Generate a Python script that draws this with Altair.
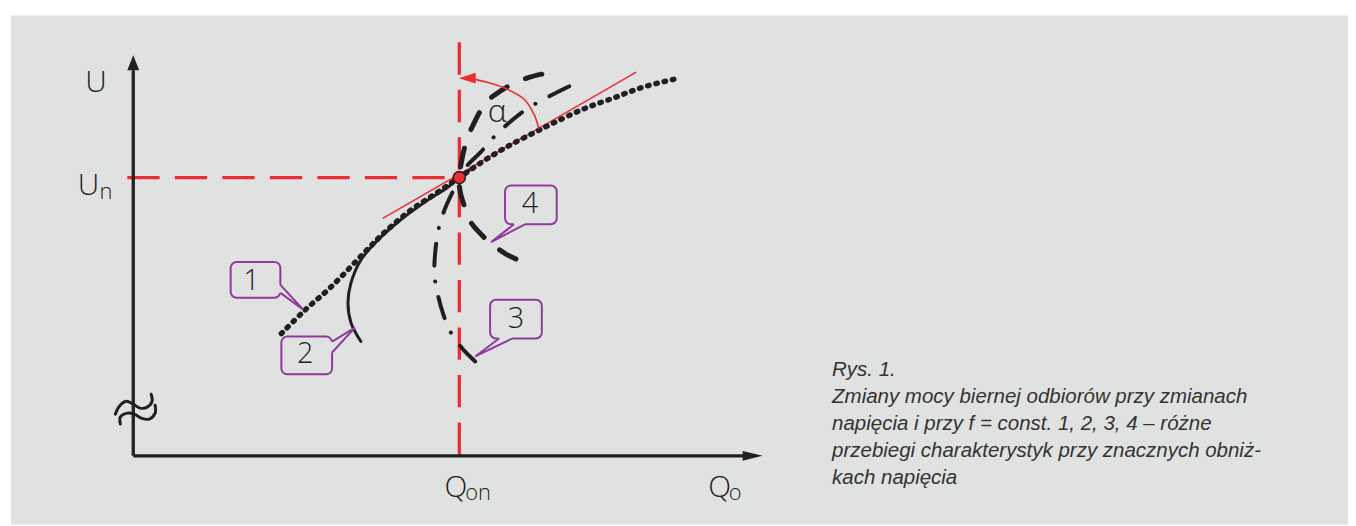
import altair as alt
import pandas as pd

# ---------------- data (diagram units: Q to the right, U upwards, origin at axis corner) -------------
Q_ON = 328
U_N = 280

# curve 1 (dotted)
C1_Q = [149, 171, 199, 233, 253, 279, 306, 328, 353, 376, 403, 423, 453, 483, 513, 549]
C1_U = [123, 145, 170, 205, 225, 247, 265, 280, 297, 311, 325, 335, 349, 360, 371, 380]
# curve 2 (solid)
C2_Q = [229, 219, 216, 219, 229, 243, 266, 293, 316, 328, 338]
C2_U = [115, 134, 154, 174, 197, 214, 235, 255, 270, 280, 287]
# curve 3 (dash-dot)
C3_Q = [344, 331, 319, 312, 306, 303, 304, 308, 315, 323, 328, 336, 349, 363, 378, 393, 406, 419, 443]
C3_U = [95, 108, 125, 142, 164, 182, 207, 232, 252, 269, 280, 292, 305, 321, 335, 347, 355, 362, 374]
# curve 4 (dashed)
C4_Q = [385, 375, 366, 356, 346, 339, 334, 330, 328, 328, 330, 333, 336, 342, 348, 356, 365, 374, 388, 399, 411]
C4_U = [198, 203, 209, 217, 227, 236, 249, 261, 272, 280, 295, 309, 320, 333, 345, 357, 364, 370, 377, 381, 384]

# tangent at the operating point
TAN_Q = [251, 506]
TAN_U = [239, 386]
# angle alpha arc
ARC_Q = [408, 403, 393, 376, 359, 343]
ARC_U = [329, 344, 359, 369, 375, 379]
ARC_HEAD_Q = 336
ARC_HEAD_U = 380

# axes
Y_AXIS_TOP = 388
X_AXIS_END = 616
RED_V_TOP = 416
RED_H_START = -6

# axis break symbol (two wavy strokes)
BREAK_A_Q = [-18, -14, -7, 0, 7, 14, 19, 18]
BREAK_A_U = [42, 50, 55, 52, 48, 49, 55, 62]
BREAK_B_Q = [-13, -13, -6, 1, 8, 16, 22, 22]
BREAK_B_U = [32, 39, 43, 42, 38, 37, 43, 51]

# callouts: label, box (q1,q2,u1,u2), tail (base a, tip, base b)
CALL_LABEL = ["1", "2", "3", "4"]
BOX_Q1 = [98, 149, 359, 374]
BOX_Q2 = [148, 200, 411, 426]
BOX_U1 = [195, 120, 157, 272]
BOX_U2 = [159, 82, 118, 233]
LABEL_Q = [119, 173, 385, 399]
LABEL_U = [176, 102, 138, 253]
TAIL_Q = [[148, 171, 148], [200, 223, 200], [368, 344, 381], [383, 360, 394]]
TAIL_U = [[172, 147, 164], [115, 129, 104], [118, 100, 118], [233, 215, 233]]

CAPTION = [
    "Rys. 1.",
    "Zmiany mocy biernej odbiorów przy zmianach",
    "napięcia i przy f = const. 1, 2, 3, 4 – różne",
    "przebiegi charakterystyk przy znacznych obniż-",
    "kach napięcia",
]
CAPTION_U = [80, 53, 26, -1, -28]
CAPTION_Q = 703

# ---------------- styling -------------
BG = "#e0e2e1"
DARK = "#231f20"
RED = "#ec2d33"
PURPLE = "#8e3b9c"
LABEL_FONT = "Open Sans"

XS = alt.Scale(domain=[-123, 1222], nice=False, zero=False)
YS = alt.Scale(domain=[-69, 443], nice=False, zero=False)


def xy():
    return dict(x=alt.X("q:Q", scale=XS, axis=None), y=alt.Y("u:Q", scale=YS, axis=None))


def curve(qs, us, **kw):
    df = pd.DataFrame({"q": qs, "u": us, "i": list(range(len(qs)))})
    return alt.Chart(df).mark_line(**kw).encode(order=alt.Order("i:Q"), **xy())


def point(q, u, **kw):
    return alt.Chart(pd.DataFrame({"q": [q], "u": [u]})).mark_point(**kw).encode(**xy())


def text(txt, q, u, **kw):
    return alt.Chart(pd.DataFrame({"q": [q], "u": [u], "t": [txt]})).mark_text(**kw).encode(
        text="t:N", **xy()
    )


layers = []

# red dashed guides
layers.append(curve([Q_ON, Q_ON], [RED_V_TOP, 0], color=RED, strokeWidth=3.3,
                    strokeDash=[32.5, 15.3], strokeCap="butt"))
layers.append(curve([RED_H_START, Q_ON], [U_N, U_N], color=RED, strokeWidth=3.3,
                    strokeDash=[32.5, 15.3], strokeCap="butt"))

# axes
layers.append(curve([0, 0], [0, Y_AXIS_TOP], color=DARK, strokeWidth=3.3))
layers.append(curve([0, X_AXIS_END], [0, 0], color=DARK, strokeWidth=3.3))
layers.append(point(0, Y_AXIS_TOP + 7.5, shape="M0,-1L0.8,1L-0.8,1Z", size=225,
                    filled=True, color=DARK, opacity=1))
layers.append(point(X_AXIS_END + 7, 0, shape="M1,0L-1,-0.5L-1,0.5Z", size=400,
                    filled=True, color=DARK, opacity=1))
layers.append(curve(BREAK_A_Q, BREAK_A_U, color=DARK, strokeWidth=3, interpolate="catmull-rom",
                    strokeCap="round"))
layers.append(curve(BREAK_B_Q, BREAK_B_U, color=DARK, strokeWidth=3, interpolate="catmull-rom",
                    strokeCap="round"))

# tangent line
layers.append(curve(TAN_Q, TAN_U, color=RED, strokeWidth=1.5))

# characteristics
layers.append(curve(C2_Q, C2_U, color=DARK, strokeWidth=3, interpolate="catmull-rom",
                    strokeCap="round"))
layers.append(curve(C1_Q, C1_U, color=DARK, strokeWidth=5.5, interpolate="catmull-rom",
                    strokeDash=[1.5, 7], strokeCap="round"))
layers.append(curve(C3_Q, C3_U, color=DARK, strokeWidth=4, interpolate="catmull-rom",
                    strokeDash=[22, 16, 0.1, 16], strokeCap="round"))
layers.append(curve(C4_Q, C4_U, color=DARK, strokeWidth=5, interpolate="catmull-rom",
                    strokeDash=[19, 20], strokeCap="round"))

# alpha arc with arrow
layers.append(curve(ARC_Q, ARC_U, color=RED, strokeWidth=1.6, interpolate="catmull-rom"))
layers.append(point(ARC_HEAD_Q, ARC_HEAD_U, shape="M-1,0L1,-0.65L1,0.65Z", size=289,
                    filled=True, color=RED, opacity=1))
layers.append(text("α", 366, 346, font=LABEL_FONT, fontWeight=300, fontSize=32,
                   align="center", baseline="middle", color=DARK))

# callouts
box_df = pd.DataFrame({"q1": BOX_Q1, "q2": BOX_Q2, "u1": BOX_U1, "u2": BOX_U2})
layers.append(alt.Chart(box_df).mark_rect(cornerRadius=6, fill=BG, stroke=PURPLE,
                                          strokeWidth=2).encode(
    x=alt.X("q1:Q", scale=XS, axis=None), x2="q2:Q",
    y=alt.Y("u1:Q", scale=YS, axis=None), y2="u2:Q"))
tail_rows = []
cover_rows = []
for k in range(len(CALL_LABEL)):
    for j in range(3):
        tail_rows.append({"g": k, "i": j, "q": TAIL_Q[k][j], "u": TAIL_U[k][j]})
    cover_rows.append({"g": k, "i": 0, "q": TAIL_Q[k][0], "u": TAIL_U[k][0]})
    cover_rows.append({"g": k, "i": 1, "q": TAIL_Q[k][2], "u": TAIL_U[k][2]})
layers.append(alt.Chart(pd.DataFrame(cover_rows)).mark_line(color=BG, strokeWidth=3.5,
                                                            strokeCap="butt").encode(
    detail="g:N", order=alt.Order("i:Q"), **xy()))
layers.append(alt.Chart(pd.DataFrame(tail_rows)).mark_line(color=PURPLE, strokeWidth=2,
                                                           strokeJoin="miter").encode(
    detail="g:N", order=alt.Order("i:Q"), **xy()))
lab_df = pd.DataFrame({"q": LABEL_Q, "u": LABEL_U, "t": CALL_LABEL})
layers.append(alt.Chart(lab_df).mark_text(font=LABEL_FONT, fontWeight=300, fontSize=29,
                                          align="center", baseline="middle",
                                          color=DARK).encode(text="t:N", **xy()))

# operating point
layers.append(point(Q_ON, U_N, shape="circle", size=150, filled=True, fill=RED,
                    stroke=DARK, strokeWidth=1.5, opacity=1))

# axis labels
big = dict(font=LABEL_FONT, fontWeight=300, fontSize=30, color=DARK, baseline="alphabetic")
small = dict(font=LABEL_FONT, fontWeight=300, fontSize=22, color=DARK, baseline="alphabetic")
layers.append(text("U", -37.5, 366, align="center", **big))
layers.append(text("U", -45, 262, align="center", **big))
layers.append(text("n", -27.5, 258, align="center", **small))
layers.append(text("Q", 324.5, -41, align="center", **big))
layers.append(text("on", 334, -44, align="left", **small))
layers.append(text("Q", 590, -41, align="center", **big))
layers.append(text("o", 599, -44, align="left", **small))

# caption
cap_df = pd.DataFrame({"t": CAPTION, "u": CAPTION_U, "q": [CAPTION_Q] * len(CAPTION)})
layers.append(alt.Chart(cap_df).mark_text(font="Liberation Sans", fontStyle="italic",
                                          fontSize=20.6, align="left",
                                          baseline="alphabetic", color="#333333").encode(
    text="t:N", **xy()))

chart = alt.layer(*layers).properties(
    width=1345, height=512,
    padding={"left": 3, "top": 6, "right": 0, "bottom": 0},
    autosize=alt.AutoSizeParams(type="none"),
    background="white",
).configure_view(fill=BG, strokeWidth=0)

chart.save("out.html", embed_options={"renderer": "svg", "actions": False})
